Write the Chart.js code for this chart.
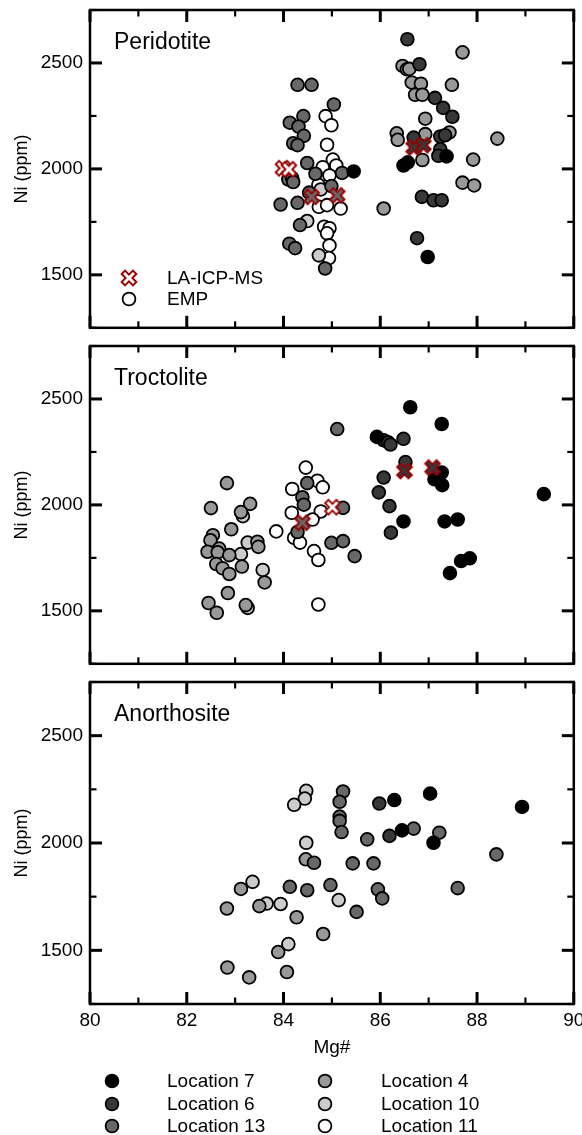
<!DOCTYPE html>
<html>
<head>
<meta charset="utf-8">
<title>Ni vs Mg# in olivine</title>
<script src="https://cdn.jsdelivr.net/npm/chart.js@4.4.1/dist/chart.umd.min.js"></script>
<style>
  html, body { margin: 0; padding: 0; background: #fff; width: 582px; height: 1135px; overflow: hidden; }
  body { position: relative; font-family: "Liberation Sans", Arial, sans-serif; color: #000; }
  canvas { position: absolute; left: 0; }
  .txt { position: absolute; white-space: nowrap; }
  .title { font-size: 23px; line-height: 23px; }
  .leg { font-size: 19px; line-height: 22px; }
  svg.sym { position: absolute; overflow: visible; }
</style>
</head>
<body>
<canvas id="pPeridotite" width="582" height="336" style="top:0px"></canvas>
<canvas id="pTroctolite" width="582" height="336" style="top:336px"></canvas>
<canvas id="pAnorthosite" width="582" height="400" style="top:672px"></canvas>

<div class="txt title" style="left:114px; top:30px">Peridotite</div>
<div class="txt title" style="left:114px; top:366px">Troctolite</div>
<div class="txt title" style="left:114px; top:702px">Anorthosite</div>

<div id="methodLegend"></div>
<div id="locationLegend"></div>

<script>
// ---- axes ----
const X_TICKS = [80, 81, 82, 83, 84, 85, 86, 87, 88, 89, 90];
const Y_TICKS = [1250, 1500, 1750, 2000, 2250, 2500, 2750];

// ---- sample locations (legend order) ----
const LOCATIONS = ['Location 7', 'Location 6', 'Location 13', 'Location 4', 'Location 10', 'Location 11'];
const LOCATION_FILL = ['#000000', '#383838', '#686868', '#999999', '#cccccc', '#ffffff'];
const METHODS = ['LA-ICP-MS', 'EMP'];

// ---- Peridotite: [Mg#, Ni ppm] ----
const PER_EMP_L7 = [[85.45,1988],[86.48,2016],[86.57,2031],[87.37,2059],[86.98,1584]];
const PER_EMP_L6 = [[86.56,2612],[86.81,2494],[87.13,2335],[87.30,2288],[87.49,2246],[86.69,2148],[87.24,2153],
  [87.34,2159],[87.24,2093],[87.20,2062],[86.86,1868],[87.10,1852],[87.27,1852],[86.76,1673]];
const PER_EMP_L13 = [[84.29,2397],[84.58,2397],[85.04,2304],[84.41,2249],[84.13,2218],[84.31,2200],[84.42,2156],
  [84.20,2121],[84.29,2112],[84.49,2028],[84.66,1977],[85.21,1981],[84.10,1950],[84.18,1956],[84.20,1938],
  [84.99,1919],[84.53,1888],[83.94,1832],[84.29,1840],[84.34,1735],[84.12,1647],[84.24,1626],[84.86,1530]];
const PER_EMP_L4 = [[87.70,2550],[86.46,2486],[86.55,2470],[86.60,2472],[86.65,2408],[86.84,2402],[87.48,2397],
  [86.72,2350],[86.87,2350],[86.93,2237],[86.34,2168],[86.36,2137],[86.93,2164],[87.43,2172],[88.42,2143],
  [86.87,2042],[87.92,2044],[87.70,1935],[87.94,1922],[86.07,1813]];
const PER_EMP_L10 = [[84.77,1903],[84.49,1754],[84.73,1592]];
const PER_EMP_L11 = [[84.87,2249],[84.99,2206],[84.90,2114],[85.02,2044],[84.81,2008],[85.09,2016],[84.95,1969],
  [84.72,1925],[84.73,1821],[84.90,1829],[85.18,1813],[84.84,1727],[84.95,1720],[84.90,1696],[84.95,1639],[84.94,1579]];
const PER_LA_L6 = [[86.69,2101],[86.89,2112]];
const PER_LA_L13 = [[84.58,1868],[85.11,1875]];
const PER_LA_L11 = [[83.99,2003],[84.11,1998]];

// ---- Troctolite ----
const TRO_EMP_L7 = [[86.62,2461],[87.27,2382],[85.93,2321],[87.27,2153],[87.12,2121],[87.28,2093],[86.48,1922],
  [87.33,1922],[87.60,1931],[89.38,2051],[87.44,1678],[87.67,1735],[87.85,1748]];
const TRO_EMP_L6 = [[86.07,2305],[86.16,2296],[86.21,2285],[86.48,2312],[86.52,2202],[86.07,2129],[85.97,2059],
  [86.19,1994],[86.22,1869]];
const TRO_EMP_L13 = [[85.11,2358],[84.49,2103],[84.39,2036],[84.42,2001],[84.29,1872],[85.23,1986],[84.99,1821],
  [85.23,1829],[85.47,1758]];
const TRO_EMP_L4 = [[82.83,2103],[82.50,1985],[83.31,2005],[83.12,1966],[82.92,1885],[82.54,1857],[82.49,1833],
  [82.67,1794],[82.43,1779],[82.64,1776],[82.88,1763],[83.46,1826],[83.48,1802],[82.61,1721],[82.74,1701],
  [82.88,1674],[83.14,1709],[83.61,1634],[82.85,1584],[82.45,1537],[82.62,1491],[83.22,1527]];
const TRO_EMP_L10 = [[83.16,1947],[83.12,1768],[83.26,1822],[83.57,1693],[83.26,1514]];
const TRO_EMP_L11 = [[83.85,1875],[84.46,2176],[84.70,2114],[84.81,2083],[84.18,2075],[84.17,1963],[84.77,1969],
  [84.60,1931],[84.22,1844],[84.34,1822],[84.63,1782],[84.72,1740],[84.72,1530]];
const TRO_LA_L6 = [[86.50,2160],[87.08,2176]];
const TRO_LA_L13 = [[84.39,1916]];
const TRO_LA_L11 = [[85.01,1989]];

// ---- Anorthosite ----
const ANO_EMP_L7 = [[86.29,2200],[87.03,2230],[88.93,2168],[86.45,2059],[87.10,2001]];
const ANO_EMP_L6 = [[85.98,2184],[86.19,2033]];
const ANO_EMP_L13 = [[84.63,1908],[84.13,1796],[84.49,1780],[84.97,1804],[85.23,2240],[85.16,2192],[85.16,2123],
  [85.16,2103],[85.20,2051],[85.73,2017],[86.69,2067],[87.22,2048],[88.40,1947],[85.43,1905],[85.86,1905],
  [85.95,1784],[86.04,1742],[87.60,1790],[85.51,1679]];
const ANO_EMP_L4 = [[84.46,1924],[83.12,1786],[82.83,1695],[83.50,1706],[84.27,1654],[84.82,1576],[83.89,1492],
  [82.84,1420],[83.29,1374],[84.07,1399]];
const ANO_EMP_L10 = [[84.47,2243],[84.44,2207],[84.22,2178],[84.47,2001],[83.36,1819],[83.65,1718],[83.94,1716],
  [84.10,1529],[85.14,1734]];
const ANO_EMP_L11 = [];

// per panel, in LOCATIONS order
const PER_EMP = [PER_EMP_L7, PER_EMP_L6, PER_EMP_L13, PER_EMP_L4, PER_EMP_L10, PER_EMP_L11];
const PER_LA = [[], PER_LA_L6, PER_LA_L13, [], [], PER_LA_L11];
const TRO_EMP = [TRO_EMP_L7, TRO_EMP_L6, TRO_EMP_L13, TRO_EMP_L4, TRO_EMP_L10, TRO_EMP_L11];
const TRO_LA = [[], TRO_LA_L6, TRO_LA_L13, [], [], TRO_LA_L11];
const ANO_EMP = [ANO_EMP_L7, ANO_EMP_L6, ANO_EMP_L13, ANO_EMP_L4, ANO_EMP_L10, ANO_EMP_L11];
const ANO_LA = [[], [], [], [], [], []];

// ---- marker styling ----
const FONT = '"Liberation Sans", Arial, sans-serif';
const CROSS_EDGE = '#990000';
const DOT_RADIUS = 6.4;
const DOT_EDGE = 1.8;

// fat diagonal cross outline, centred on 0,0
function crossPolygon(s, a) {
  const plus = [[a,-s],[a,-a],[s,-a],[s,a],[a,a],[a,s],[-a,s],[-a,a],[-s,a],[-s,-a],[-a,-a],[-a,-s]];
  const c = Math.SQRT1_2;
  return plus.map(([x, y]) => [(x - y) * c, (x + y) * c]);
}
const CROSS_PTS = crossPolygon(8, 2.4);

function crossMarker(fill) {
  const cv = document.createElement('canvas');
  cv.width = 20; cv.height = 20;
  const g = cv.getContext('2d');
  g.translate(10, 10);
  g.beginPath();
  CROSS_PTS.forEach(([x, y], i) => i ? g.lineTo(x, y) : g.moveTo(x, y));
  g.closePath();
  g.fillStyle = fill;
  g.fill();
  g.lineWidth = 1.9;
  g.lineJoin = 'miter';
  g.strokeStyle = CROSS_EDGE;
  g.stroke();
  return cv;
}

// frame and inward tick marks on all four sides
const frameTicks = {
  id: 'frameTicks',
  afterDraw(chart) {
    const { ctx, chartArea: a, scales: { x, y } } = chart;
    ctx.save();
    ctx.strokeStyle = '#000';
    const seg = (x1, y1, x2, y2) => { ctx.beginPath(); ctx.moveTo(x1, y1); ctx.lineTo(x2, y2); ctx.stroke(); };
    X_TICKS.forEach(v => {
      const px = x.getPixelForValue(v);
      const major = v % 2 === 0;
      const len = major ? 12 : 6.5;
      ctx.lineWidth = major ? 3 : 2.2;
      seg(px, a.bottom, px, a.bottom - len);
      seg(px, a.top, px, a.top + len);
    });
    Y_TICKS.forEach(v => {
      const py = y.getPixelForValue(v);
      const major = v % 500 === 0;
      const len = major ? 12 : 6.5;
      ctx.lineWidth = major ? 3 : 2.2;
      seg(a.left, py, a.left + len, py);
      seg(a.right, py, a.right - len, py);
    });
    ctx.lineWidth = 2.5;
    ctx.strokeRect(a.left, a.top, a.right - a.left, a.bottom - a.top);
    ctx.restore();
  }
};

Chart.defaults.font.family = FONT;
Chart.defaults.color = '#000';

function toXY(pairs) { return pairs.map(([x, y]) => ({ x, y })); }

function makePanel(id, emp, la, isBottom) {
  const datasets = [];
  LOCATIONS.forEach((name, i) => {
    if (la[i].length) {
      datasets.push({
        label: name + ' ' + METHODS[0],
        data: toXY(la[i]),
        pointStyle: crossMarker(LOCATION_FILL[i]),
        pointRadius: 7,
        order: 0
      });
    }
  });
  LOCATIONS.forEach((name, i) => {
    if (emp[i].length) {
      datasets.push({
        label: name + ' ' + METHODS[1],
        data: toXY(emp[i]),
        pointStyle: 'circle',
        pointRadius: DOT_RADIUS,
        pointBorderWidth: DOT_EDGE,
        backgroundColor: LOCATION_FILL[i],
        borderColor: '#000',
        order: 1
      });
    }
  });

  return new Chart(document.getElementById(id), {
    type: 'scatter',
    data: { datasets },
    options: {
      responsive: false,
      animation: false,
      devicePixelRatio: 1,
      events: [],
      layout: { padding: { top: 10, right: 6, bottom: isBottom ? 0 : 4, left: 0 } },
      plugins: { legend: { display: false }, tooltip: { enabled: false } },
      scales: {
        x: {
          type: 'linear',
          min: X_TICKS[0],
          max: X_TICKS[X_TICKS.length - 1],
          display: isBottom,
          afterFit(s) { s.height = isBottom ? 68 : 0; s.paddingLeft = 0; s.paddingRight = 0; },
          grid: { display: false, drawTicks: false },
          border: { display: false },
          ticks: {
            stepSize: 1, autoSkip: false, maxRotation: 0, padding: 5,
            font: { size: 19 },
            callback: v => (Number.isInteger(v) && v % 2 === 0) ? String(v) : ''
          },
          title: { display: true, text: 'Mg#', font: { size: 19 }, padding: { top: 0, bottom: 13 } }
        },
        y: {
          type: 'linear',
          min: Y_TICKS[0],
          max: Y_TICKS[Y_TICKS.length - 1],
          afterFit(s) { s.width = 90; s.paddingTop = 0; s.paddingBottom = 0; },
          grid: { display: false, drawTicks: false },
          border: { display: false },
          ticks: {
            stepSize: 250, autoSkip: false, padding: 7,
            font: { size: 19 },
            callback: v => (v % 500 === 0) ? String(v) : ''
          },
          title: { display: true, text: 'Ni (ppm)', font: { size: 18 }, padding: { top: 11, bottom: 0 } }
        }
      }
    },
    plugins: [frameTicks]
  });
}

makePanel('pPeridotite', PER_EMP, PER_LA, false);
makePanel('pTroctolite', TRO_EMP, TRO_LA, false);
makePanel('pAnorthosite', ANO_EMP, ANO_LA, true);

// ---- HTML legends ----
const SVGNS = 'http://www.w3.org/2000/svg';
function dotSymbol(cx, cy, fill) {
  const svg = document.createElementNS(SVGNS, 'svg');
  svg.setAttribute('class', 'sym');
  svg.setAttribute('width', 16); svg.setAttribute('height', 16);
  svg.style.left = (cx - 8) + 'px'; svg.style.top = (cy - 8) + 'px';
  const c = document.createElementNS(SVGNS, 'circle');
  c.setAttribute('cx', 8); c.setAttribute('cy', 8); c.setAttribute('r', DOT_RADIUS);
  c.setAttribute('fill', fill); c.setAttribute('stroke', '#000'); c.setAttribute('stroke-width', DOT_EDGE);
  svg.appendChild(c);
  return svg;
}
function crossSymbol(cx, cy, fill) {
  const svg = document.createElementNS(SVGNS, 'svg');
  svg.setAttribute('class', 'sym');
  svg.setAttribute('width', 20); svg.setAttribute('height', 20);
  svg.style.left = (cx - 10) + 'px'; svg.style.top = (cy - 10) + 'px';
  const p = document.createElementNS(SVGNS, 'polygon');
  p.setAttribute('points', CROSS_PTS.map(([x, y]) => (x + 10) + ',' + (y + 10)).join(' '));
  p.setAttribute('fill', fill); p.setAttribute('stroke', CROSS_EDGE); p.setAttribute('stroke-width', 1.9);
  svg.appendChild(p);
  return svg;
}
function legendText(text, left, cy) {
  const d = document.createElement('div');
  d.className = 'txt leg';
  d.style.left = left + 'px';
  d.style.top = (cy - 10.8) + 'px';
  d.textContent = text;
  return d;
}

const methodBox = document.getElementById('methodLegend');
methodBox.appendChild(crossSymbol(129, 277.5, '#ffffff'));
methodBox.appendChild(legendText(METHODS[0], 167, 277.5));
methodBox.appendChild(dotSymbol(129, 298.5, '#ffffff'));
methodBox.appendChild(legendText(METHODS[1], 167, 298.5));

const locBox = document.getElementById('locationLegend');
const ROW_Y = [1081, 1103.5, 1126];
LOCATIONS.forEach((name, i) => {
  const col = Math.floor(i / 3), row = i % 3;
  const sx = col === 0 ? 111.5 : 325;
  const tx = col === 0 ? 167 : 381;
  locBox.appendChild(dotSymbol(sx, ROW_Y[row], LOCATION_FILL[i]));
  locBox.appendChild(legendText(name, tx, ROW_Y[row]));
});
</script>
</body>
</html>
